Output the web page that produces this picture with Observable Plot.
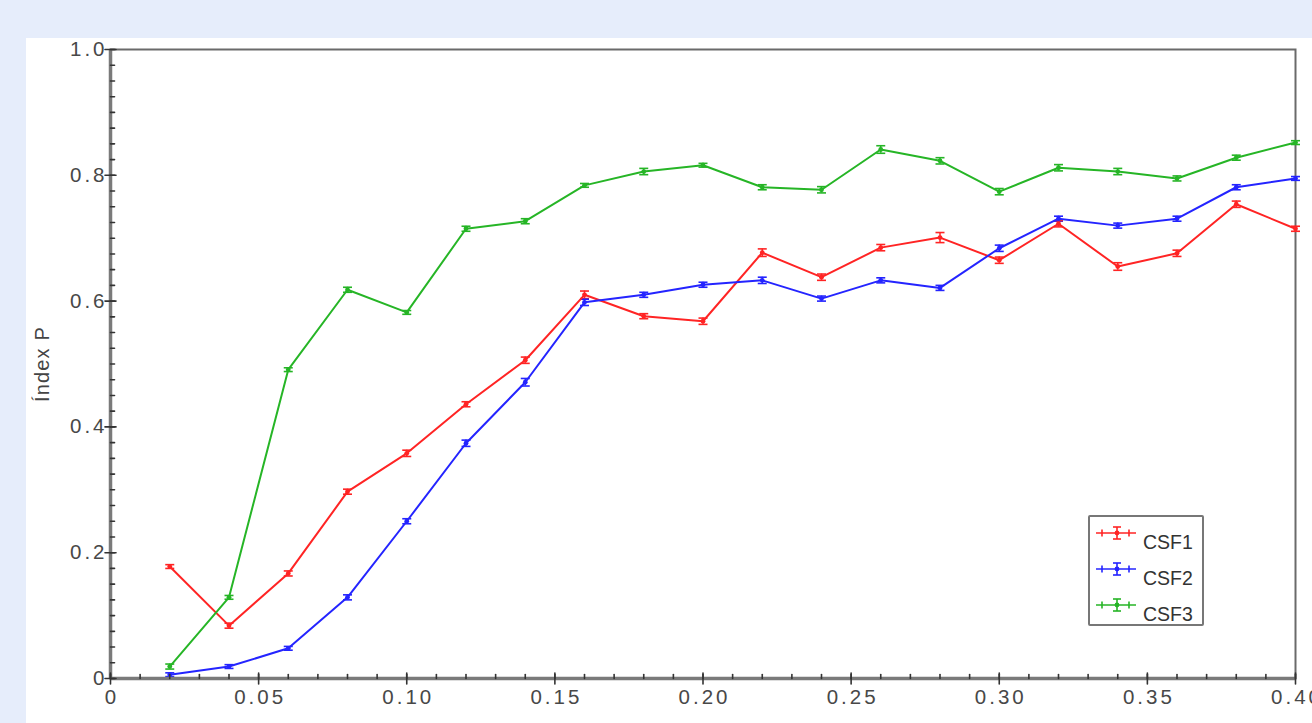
<!DOCTYPE html>
<html>
<head>
<meta charset="utf-8">
<script src="https://cdn.jsdelivr.net/npm/d3@7"></script>
<script src="https://cdn.jsdelivr.net/npm/@observablehq/plot@0.6"></script>
<style>
  html, body { margin: 0; padding: 0; background: #e6edfb; overflow: hidden; }
  #panel { position: absolute; left: 26px; top: 38px; width: 1286px; height: 685px; background: #fff; overflow: hidden; }
  #panel svg [aria-label="x-axis tick label"] text,
  #panel svg [aria-label="y-axis tick label"] text { letter-spacing: 3px; }
  #panel svg .ytitle text { letter-spacing: 1.2px; }
  #legend { position: absolute; left: 1062px; top: 477px; width: 112px; height: 107px;
            border: 2px solid #777; border-radius: 2px; background: #fff; }
</style>
</head>
<body>
<div id="panel"><div id="legend"></div></div>
<script>
// Sampled proportion values (x) and the Index P of each configuration
const xs   = [0.02, 0.04, 0.06, 0.08, 0.10, 0.12, 0.14, 0.16, 0.18, 0.20,
              0.22, 0.24, 0.26, 0.28, 0.30, 0.32, 0.34, 0.36, 0.38, 0.40];
const csf1 = [0.178, 0.084, 0.167, 0.297, 0.358, 0.436, 0.506, 0.610, 0.576, 0.568,
              0.677, 0.638, 0.685, 0.701, 0.665, 0.723, 0.655, 0.676, 0.754, 0.715];
const csf2 = [0.006, 0.019, 0.048, 0.129, 0.250, 0.374, 0.471, 0.598, 0.610, 0.626,
              0.633, 0.604, 0.633, 0.621, 0.684, 0.731, 0.720, 0.731, 0.781, 0.795];
const csf3 = [0.019, 0.129, 0.491, 0.618, 0.582, 0.715, 0.727, 0.784, 0.806, 0.816,
              0.781, 0.777, 0.841, 0.823, 0.774, 0.812, 0.806, 0.795, 0.828, 0.852];
// Standard errors
const err1 = [0.003, 0.004, 0.004, 0.004, 0.005, 0.004, 0.005, 0.006, 0.004, 0.005,
              0.006, 0.005, 0.005, 0.008, 0.005, 0.005, 0.006, 0.005, 0.005, 0.004];
const err2 = [0.003, 0.003, 0.003, 0.004, 0.004, 0.005, 0.006, 0.005, 0.004, 0.004,
              0.005, 0.004, 0.004, 0.004, 0.005, 0.004, 0.004, 0.004, 0.004, 0.003];
const err3 = [0.004, 0.003, 0.003, 0.004, 0.003, 0.004, 0.004, 0.003, 0.005, 0.003,
              0.004, 0.005, 0.006, 0.005, 0.005, 0.005, 0.005, 0.004, 0.004, 0.003];

const seriesNames  = ["CSF1", "CSF2", "CSF3"];
const seriesColors = ["#ff2424", "#2424ff", "#26b526"];

// Axis ticks and their labels
const xTicks      = [0, 0.05, 0.10, 0.15, 0.20, 0.25, 0.30, 0.35, 0.40];
const xTickLabels = ["0", "0.05", "0.10", "0.15", "0.20", "0.25", "0.30", "0.35", "0.40"];
const xMinorTicks = d3.range(0, 41).map(i => i / 100);
const yTicks      = [0, 0.2, 0.4, 0.6, 0.8, 1.0];
const yTickLabels = ["0", "0.2", "0.4", "0.6", "0.8", "1.0"];
const yMinorTicks = d3.range(0, 41).map(i => i / 40);
const yTitle = "Índex P";

// Long-format table built from the arrays above
const rows = [];
[[csf1, err1], [csf2, err2], [csf3, err3]].forEach(([vals, errs], s) => {
  vals.forEach((v, i) => rows.push({series: seriesNames[s], x: xs[i], y: v, lo: v - errs[i], hi: v + errs[i]}));
});

const xLabel = new Map(xTicks.map((t, i) => [t, xTickLabels[i]]));
const yLabel = new Map(yTicks.map((t, i) => [t, yTickLabels[i]]));

// Plain line segment used for tick marks and error-bar caps
const stickShape = {draw(context, l) { context.moveTo(0, 0); context.lineTo(0, -l); }};
const capSymbol = {draw(context, size) { const r = Math.sqrt(size / Math.PI); context.moveTo(-r, 0); context.lineTo(r, 0); }};

const tickColor = "#484848";

const chart = Plot.plot({
  width: 1286,
  height: 685,
  marginLeft: 84,
  marginRight: 17,
  marginTop: 11,
  marginBottom: 45,
  style: {fontFamily: "'Liberation Sans', Arial, sans-serif", fontSize: "20.5px", color: "#484848", background: "transparent"},
  x: {domain: [0, 0.4], axis: null},
  y: {domain: [0, 1], axis: null},
  color: {domain: seriesNames, range: seriesColors},
  marks: [
    Plot.frame({stroke: "#6a6a6a", strokeWidth: 2}),
    // error bars
    Plot.ruleX(rows, {x: "x", y1: "lo", y2: "hi", stroke: "series", strokeWidth: 1.5}),
    Plot.dot(rows, {x: "x", y: "lo", symbol: capSymbol, r: 4.5, stroke: "series", strokeWidth: 1.6, fill: "none"}),
    Plot.dot(rows, {x: "x", y: "hi", symbol: capSymbol, r: 4.5, stroke: "series", strokeWidth: 1.6, fill: "none"}),
    // series lines and markers
    Plot.line(rows, {x: "x", y: "y", z: "series", stroke: "series", strokeWidth: 2}),
    Plot.dot(rows, {x: "x", y: "y", fill: "series", r: 2.4}),
    // axis lines
    Plot.ruleX([0], {stroke: "#7a7a7a", strokeWidth: 3.5}),
    Plot.ruleY([0], {stroke: "#7a7a7a", strokeWidth: 3.5}),
    // inward minor ticks
    Plot.vector(yMinorTicks, {x: 0, y: d => d, length: 4, rotate: 90, anchor: "start", shape: stickShape, stroke: "#333", strokeWidth: 1.6}),
    Plot.vector(xMinorTicks, {x: d => d, y: 0, length: 4, rotate: 0, anchor: "start", shape: stickShape, stroke: "#333", strokeWidth: 1.6}),
    // major ticks crossing the axes
    Plot.vector(yTicks, {x: 0, y: d => d, length: 11, rotate: 90, anchor: "middle", shape: stickShape, stroke: "#333", strokeWidth: 1.6}),
    Plot.vector(xTicks, {x: d => d, y: 0, length: 11, rotate: 0, anchor: "middle", shape: stickShape, stroke: "#333", strokeWidth: 1.6}),
    // tick labels
    Plot.axisX(xTicks, {tickSize: 0, tickPadding: 11, dx: 1.5, stroke: "none", fill: tickColor, label: null, tickFormat: d => xLabel.get(d)}),
    Plot.axisY(yTicks, {tickSize: 0, tickPadding: 3, stroke: "none", fill: tickColor, label: null, tickFormat: d => yLabel.get(d)}),
    // y-axis title
    Plot.text([yTitle], {text: d => d, frameAnchor: "left", dx: -68, rotate: -90, textAnchor: "middle", lineAnchor: "middle", fontSize: 20, fill: "#444", className: "ytitle"})
  ]
});
document.getElementById("panel").prepend(chart);

// Legend box with error-bar swatches
const lg = d3.select("#legend").append("svg").attr("width", 112).attr("height", 107)
  .style("font-family", "'Liberation Sans', Arial, sans-serif");
seriesNames.forEach((name, i) => {
  const g = lg.append("g").attr("transform", `translate(0,${16 + i * 36})`)
    .attr("stroke", seriesColors[i]).attr("stroke-width", 1.6);
  g.append("line").attr("x1", 6).attr("x2", 46).attr("y1", 0).attr("y2", 0);
  [12, 39].forEach(x => g.append("line").attr("x1", x).attr("x2", x).attr("y1", -3.5).attr("y2", 3.5));
  g.append("line").attr("x1", 27).attr("x2", 27).attr("y1", -6).attr("y2", 6);
  g.append("line").attr("x1", 23).attr("x2", 31).attr("y1", -6).attr("y2", -6);
  g.append("line").attr("x1", 23).attr("x2", 31).attr("y1", 6).attr("y2", 6);
  g.append("circle").attr("cx", 27).attr("cy", 0).attr("r", 2.4).attr("fill", seriesColors[i]).attr("stroke", "none");
  lg.append("text").attr("x", 53).attr("y", 32 + i * 36).attr("font-size", 19.5).attr("fill", "#333").text(name);
});
</script>
</body>
</html>
